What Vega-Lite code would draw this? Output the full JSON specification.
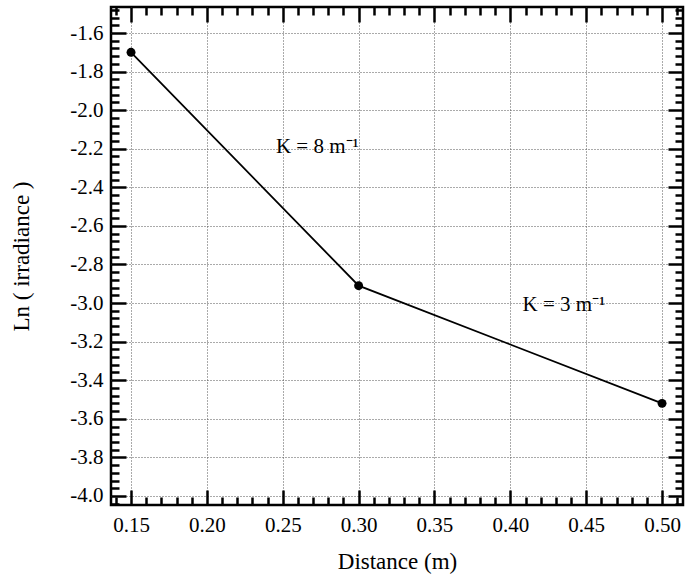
{
  "$schema": "https://vega.github.io/schema/vega-lite/v6.json",
  "width": 572,
  "height": 498,
  "autosize": {"type": "none"},
  "padding": {"left": 111, "top": 7, "right": 17, "bottom": 79},
  "background": "white",
  "config": {
    "view": {"stroke": "black", "strokeWidth": 2.5},
    "font": "Liberation Serif",
    "axis": {
      "domain": false,
      "labelFont": "Liberation Serif",
      "titleFont": "Liberation Serif",
      "labelColor": "black",
      "titleColor": "black",
      "titleFontWeight": "normal",
      "tickColor": "black",
      "tickWidth": 2.5
    }
  },
  "datasets": {
    "pts": [
      {"x": 0.15, "y": -1.70},
      {"x": 0.30, "y": -2.91},
      {"x": 0.50, "y": -3.52}
    ],
    "notes": [
      {"x": 0.2455, "y": -2.19, "t": "K = 8 m⁻¹"},
      {"x": 0.408, "y": -3.009, "t": "K = 3 m⁻¹"}
    ]
  },
  "resolve": {"axis": {"x": "independent", "y": "independent"}},
  "layer": [
    {
      "data": {"name": "pts"},
      "mark": {"type": "line", "color": "black", "strokeWidth": 1.8},
      "encoding": {
        "x": {"field": "x", "type": "quantitative",
          "scale": {"domain": [0.1368, 0.5138], "nice": false, "zero": false},
          "axis": {"orient": "bottom", "values": [0.15, 0.2, 0.25, 0.3, 0.35, 0.4, 0.45, 0.5],
            "format": ".2f", "labelFont": "Liberation Serif", "labelFontSize": 21, "labelPadding": 9, "ticks": false,
            "grid": true, "gridDash": [1, 2], "gridColor": "#555", "gridWidth": 1,
            "title": "Distance (m)", "titleFont": "Liberation Serif", "titleFontSize": 23, "titlePadding": 15}},
        "y": {"field": "y", "type": "quantitative",
          "scale": {"domain": [-4.047, -1.465], "nice": false, "zero": false},
          "axis": {"orient": "left", "values": [-1.6, -1.8, -2.0, -2.2, -2.4, -2.6, -2.8, -3.0, -3.2, -3.4, -3.6, -3.8, -4.0],
            "labelExpr": "replace(format(datum.value, '.1f'), '−', '-')",
            "labelFont": "Liberation Serif", "labelFontSize": 21, "labelPadding": 8, "ticks": false,
            "grid": true, "gridDash": [1, 2], "gridColor": "#555", "gridWidth": 1,
            "title": "Ln ( irradiance )", "titleFont": "Liberation Serif", "titleFontSize": 23, "titlePadding": 36}}
      }
    },
    {
      "data": {"name": "pts"},
      "mark": {"type": "point", "filled": true, "color": "black", "size": 80, "opacity": 1},
      "encoding": {
        "x": {"field": "x", "type": "quantitative", "axis": null},
        "y": {"field": "y", "type": "quantitative", "axis": null}
      }
    },
    {
      "data": {"name": "notes"},
      "mark": {"type": "text", "align": "left", "baseline": "middle", "fontSize": 21, "font": "Liberation Serif", "color": "black"},
      "encoding": {
        "x": {"field": "x", "type": "quantitative", "axis": null},
        "y": {"field": "y", "type": "quantitative", "axis": null},
        "text": {"field": "t"}
      }
    },
    {
      "data": {"name": "pts"},
      "mark": {"type": "point", "opacity": 0},
      "encoding": {
        "x": {"field": "x", "type": "quantitative",
          "axis": {"orient": "bottom", "values": [0.15, 0.2, 0.25, 0.3, 0.35, 0.4, 0.45, 0.5],
            "labels": false, "grid": false, "ticks": true, "tickSize": -15, "title": null}},
        "y": {"field": "y", "type": "quantitative",
          "axis": {"orient": "left", "values": [-1.6, -1.8, -2.0, -2.2, -2.4, -2.6, -2.8, -3.0, -3.2, -3.4, -3.6, -3.8, -4.0],
            "labels": false, "grid": false, "ticks": true, "tickSize": -15, "title": null}}
      }
    },
    {
      "data": {"name": "pts"},
      "mark": {"type": "point", "opacity": 0},
      "encoding": {
        "x": {"field": "x", "type": "quantitative",
          "axis": {"orient": "bottom", "values": [0.14, 0.16, 0.17, 0.18, 0.19, 0.21, 0.22, 0.23, 0.24, 0.26, 0.27, 0.28, 0.29, 0.31, 0.32, 0.33, 0.34, 0.36, 0.37, 0.38, 0.39, 0.41, 0.42, 0.43, 0.44, 0.46, 0.47, 0.48, 0.49, 0.51],
            "labels": false, "grid": false, "ticks": true, "tickSize": -8, "title": null}},
        "y": {"field": "y", "type": "quantitative",
          "axis": {"orient": "left", "values": [-1.48, -1.52, -1.56, -1.64, -1.68, -1.72, -1.76, -1.84, -1.88, -1.92, -1.96, -2.04, -2.08, -2.12, -2.16, -2.24, -2.28, -2.32, -2.36, -2.44, -2.48, -2.52, -2.56, -2.64, -2.68, -2.72, -2.76, -2.84, -2.88, -2.92, -2.96, -3.04, -3.08, -3.12, -3.16, -3.24, -3.28, -3.32, -3.36, -3.44, -3.48, -3.52, -3.56, -3.64, -3.68, -3.72, -3.76, -3.84, -3.88, -3.92, -3.96, -4.04],
            "labels": false, "grid": false, "ticks": true, "tickSize": -8, "title": null}}
      }
    },
    {
      "data": {"name": "pts"},
      "mark": {"type": "point", "opacity": 0},
      "encoding": {
        "x": {"field": "x", "type": "quantitative",
          "axis": {"orient": "top", "values": [0.15, 0.2, 0.25, 0.3, 0.35, 0.4, 0.45, 0.5],
            "labels": false, "grid": false, "ticks": true, "tickSize": -15, "title": null}},
        "y": {"field": "y", "type": "quantitative",
          "axis": {"orient": "right", "values": [-1.6, -1.8, -2.0, -2.2, -2.4, -2.6, -2.8, -3.0, -3.2, -3.4, -3.6, -3.8, -4.0],
            "labels": false, "grid": false, "ticks": true, "tickSize": -15, "title": null}}
      }
    },
    {
      "data": {"name": "pts"},
      "mark": {"type": "point", "opacity": 0},
      "encoding": {
        "x": {"field": "x", "type": "quantitative",
          "axis": {"orient": "top", "values": [0.14, 0.16, 0.17, 0.18, 0.19, 0.21, 0.22, 0.23, 0.24, 0.26, 0.27, 0.28, 0.29, 0.31, 0.32, 0.33, 0.34, 0.36, 0.37, 0.38, 0.39, 0.41, 0.42, 0.43, 0.44, 0.46, 0.47, 0.48, 0.49, 0.51],
            "labels": false, "grid": false, "ticks": true, "tickSize": -8, "title": null}},
        "y": {"field": "y", "type": "quantitative",
          "axis": {"orient": "right", "values": [-1.48, -1.52, -1.56, -1.64, -1.68, -1.72, -1.76, -1.84, -1.88, -1.92, -1.96, -2.04, -2.08, -2.12, -2.16, -2.24, -2.28, -2.32, -2.36, -2.44, -2.48, -2.52, -2.56, -2.64, -2.68, -2.72, -2.76, -2.84, -2.88, -2.92, -2.96, -3.04, -3.08, -3.12, -3.16, -3.24, -3.28, -3.32, -3.36, -3.44, -3.48, -3.52, -3.56, -3.64, -3.68, -3.72, -3.76, -3.84, -3.88, -3.92, -3.96, -4.04],
            "labels": false, "grid": false, "ticks": true, "tickSize": -8, "title": null}}
      }
    }
  ]
}
